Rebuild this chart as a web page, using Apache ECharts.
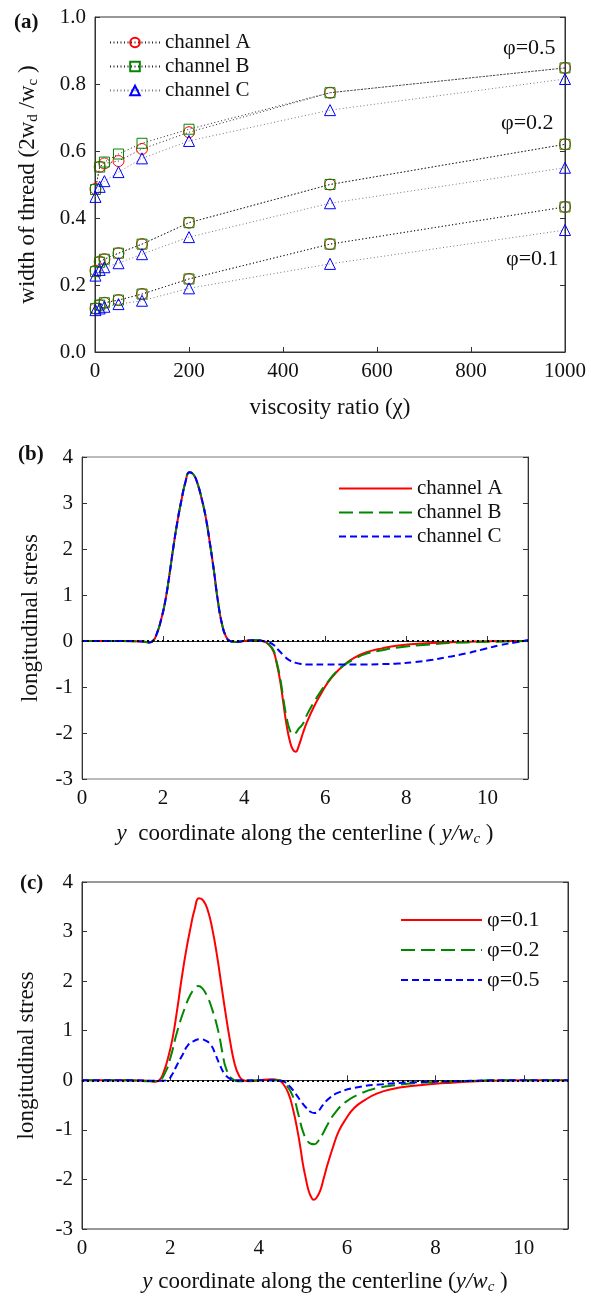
<!DOCTYPE html>
<html>
<head>
<meta charset="utf-8">
<script src="https://cdn.jsdelivr.net/npm/echarts@6/dist/echarts.min.js"></script>
<style>
  html, body { margin: 0; padding: 0; background: #fff; }
  #chart { width: 591px; height: 1296px; }
</style>
</head>
<body>
<div id="chart"></div>
<script>
// ---- panel (a): width of thread vs viscosity ratio
const chi = [1, 10, 20, 50, 100, 200, 500, 1000];
const aPhi05 = [0.487, 0.553, 0.563, 0.57, 0.606, 0.656, 0.774, 0.848];
const bPhi05 = [0.485, 0.552, 0.567, 0.591, 0.623, 0.665, 0.774, 0.848];
const cPhi05 = [0.463, 0.493, 0.51, 0.537, 0.578, 0.63, 0.722, 0.815];
const aPhi02 = [0.243, 0.27, 0.277, 0.295, 0.322, 0.386, 0.5, 0.62];
const bPhi02 = [0.24, 0.268, 0.277, 0.295, 0.322, 0.386, 0.5, 0.62];
const cPhi02 = [0.228, 0.245, 0.253, 0.265, 0.292, 0.343, 0.444, 0.55];
const aPhi01 = [0.13, 0.14, 0.147, 0.155, 0.173, 0.218, 0.322, 0.433];
const bPhi01 = [0.13, 0.14, 0.147, 0.155, 0.173, 0.218, 0.322, 0.433];
const cPhi01 = [0.125, 0.13, 0.135, 0.143, 0.153, 0.19, 0.263, 0.364];

// ---- panel (b): stress along centerline, three channels
const stressB_A = [[0,0],[1,0],[1.5,-0.01],[1.65,-0.03],[1.75,0],[1.85,0.17],[1.95,0.46],[2.05,0.85],[2.15,1.4],[2.25,2.02],[2.35,2.58],[2.45,3.05],[2.55,3.45],[2.65,3.67],[2.75,3.62],[2.85,3.42],[2.95,3.1],[3.05,2.7],[3.15,2.15],[3.25,1.55],[3.35,0.88],[3.45,0.38],[3.55,0.1],[3.65,0],[3.8,-0.02],[4,0],[4.3,0.02],[4.45,0],[4.6,-0.07],[4.72,-0.22],[4.8,-0.48],[4.89,-0.88],[4.97,-1.38],[5.05,-1.85],[5.12,-2.15],[5.2,-2.36],[5.27,-2.41],[5.35,-2.27],[5.45,-2.0],[5.55,-1.76],[5.72,-1.43],[5.9,-1.14],[6.05,-0.92],[6.25,-0.7],[6.47,-0.52],[6.7,-0.37],[7,-0.25],[7.4,-0.16],[7.8,-0.1],[8.5,-0.05],[9.5,-0.015],[10.5,0],[11,0]];
const stressB_B = [[0,0],[1,0],[1.5,-0.01],[1.65,-0.03],[1.75,0],[1.85,0.17],[1.95,0.46],[2.05,0.85],[2.15,1.4],[2.25,2.02],[2.35,2.58],[2.45,3.05],[2.55,3.45],[2.65,3.67],[2.75,3.62],[2.85,3.42],[2.95,3.1],[3.05,2.7],[3.15,2.15],[3.25,1.55],[3.35,0.88],[3.45,0.38],[3.55,0.1],[3.65,0],[3.8,-0.02],[4,0],[4.3,0.02],[4.45,0],[4.6,-0.07],[4.72,-0.2],[4.8,-0.45],[4.89,-0.82],[4.97,-1.28],[5.05,-1.68],[5.12,-1.92],[5.2,-2.03],[5.27,-2.0],[5.35,-1.9],[5.45,-1.8],[5.55,-1.6],[5.72,-1.33],[5.9,-1.08],[6.05,-0.9],[6.25,-0.69],[6.47,-0.52],[6.7,-0.4],[7,-0.28],[7.4,-0.2],[7.8,-0.14],[8.5,-0.08],[9.5,-0.03],[10.5,-0.01],[11,0]];
const stressB_C = [[0,0],[1,0],[1.5,-0.01],[1.65,-0.03],[1.75,0],[1.85,0.17],[1.95,0.46],[2.05,0.85],[2.15,1.4],[2.25,2.02],[2.35,2.58],[2.45,3.05],[2.55,3.45],[2.65,3.67],[2.75,3.62],[2.85,3.42],[2.95,3.1],[3.05,2.7],[3.15,2.15],[3.25,1.55],[3.35,0.88],[3.45,0.38],[3.55,0.1],[3.65,0],[3.8,-0.02],[4,0],[4.3,0.02],[4.45,0],[4.6,-0.03],[4.72,-0.08],[4.85,-0.2],[4.97,-0.31],[5.1,-0.41],[5.25,-0.47],[5.4,-0.5],[5.6,-0.51],[6,-0.51],[6.5,-0.51],[7,-0.51],[7.5,-0.5],[7.8,-0.49],[8.2,-0.46],[8.64,-0.41],[9,-0.35],[9.48,-0.27],[9.9,-0.18],[10.32,-0.09],[10.7,-0.03],[11,0.02]];

// ---- panel (c): stress along centerline, three volume fractions
const stressC_01 = [[0,0],[1,0],[1.5,-0.01],[1.65,-0.03],[1.75,0],[1.85,0.17],[1.95,0.46],[2.05,0.85],[2.15,1.4],[2.25,2.02],[2.35,2.58],[2.45,3.05],[2.55,3.45],[2.65,3.67],[2.75,3.62],[2.85,3.42],[2.95,3.05],[3.05,2.55],[3.15,1.95],[3.25,1.35],[3.35,0.8],[3.45,0.35],[3.55,0.1],[3.65,0],[3.8,-0.02],[4,0],[4.3,0.02],[4.45,0],[4.55,-0.07],[4.67,-0.26],[4.78,-0.6],[4.88,-1.03],[4.95,-1.4],[5,-1.69],[5.07,-2.0],[5.13,-2.23],[5.19,-2.36],[5.24,-2.41],[5.3,-2.38],[5.39,-2.23],[5.47,-1.98],[5.56,-1.69],[5.68,-1.35],[5.81,-1.03],[5.98,-0.77],[6.16,-0.56],[6.4,-0.4],[6.67,-0.27],[7,-0.18],[7.52,-0.11],[8,-0.07],[8.37,-0.05],[9.2,-0.01],[10,0],[11,0]];
const stressC_02 = [[0,0],[1,0],[1.6,-0.02],[1.75,0],[1.89,0.17],[2,0.45],[2.15,0.97],[2.32,1.44],[2.45,1.72],[2.55,1.85],[2.63,1.9],[2.72,1.86],[2.82,1.72],[2.95,1.42],[3.09,0.97],[3.18,0.55],[3.26,0.24],[3.4,0.03],[3.6,-0.02],[4,0],[4.45,0],[4.6,-0.07],[4.79,-0.36],[4.9,-0.7],[5,-1.03],[5.1,-1.22],[5.18,-1.28],[5.26,-1.29],[5.35,-1.22],[5.45,-1.08],[5.56,-0.89],[5.75,-0.63],[5.98,-0.43],[6.3,-0.27],[6.67,-0.16],[7.1,-0.1],[7.52,-0.06],[8.5,-0.02],[9.5,0],[11,0]];
const stressC_05 = [[0,0],[1,0],[1.8,-0.01],[1.95,0.02],[2.05,0.13],[2.15,0.31],[2.28,0.52],[2.4,0.71],[2.55,0.8],[2.67,0.83],[2.8,0.8],[2.92,0.71],[3.02,0.52],[3.12,0.31],[3.22,0.14],[3.35,0.03],[3.5,0],[4.4,0],[4.5,-0.01],[4.6,-0.04],[4.71,-0.13],[4.85,-0.29],[4.96,-0.43],[5.08,-0.56],[5.18,-0.64],[5.26,-0.66],[5.35,-0.62],[5.45,-0.5],[5.6,-0.36],[5.8,-0.25],[6.24,-0.14],[6.8,-0.08],[7.52,-0.04],[8.5,-0.02],[9.5,0],[11,0]];

const FONT = 'Liberation Serif';
const txt = { fontFamily: FONT, fontSize: 21, color: '#111' };

const chart = echarts.init(document.getElementById('chart'));

function pairs(ys) {
  return chi.map((x, i) => [x, ys[i]]);
}

// one (a) series per channel and volume fraction
function threadSeries(name, ys, symbol, color, lineColor) {
  return {
    name: name,
    type: 'line',
    xAxisIndex: 0,
    yAxisIndex: 0,
    data: pairs(ys),
    symbol: symbol,
    symbolSize: symbol === 'rect' ? 10 : 11,
    showAllSymbol: true,
    itemStyle: { color: 'rgba(255,255,255,0)', borderColor: color, borderWidth: 1 },
    lineStyle: { color: lineColor, width: 1, type: [1, 2.5] },
    emphasis: { disabled: true },
  };
}

function stressSeries(name, data, xi, yi, color, dash) {
  return {
    name: name,
    type: 'line',
    xAxisIndex: xi,
    yAxisIndex: yi,
    data: data,
    symbol: 'none',
    smooth: 0.5,
    lineStyle: { color: color, width: 2, type: dash },
    itemStyle: { color: color },
    emphasis: { disabled: true },
  };
}

const zeroLine = {
  silent: true,
  symbol: 'none',
  label: { show: false },
  lineStyle: { color: '#000', type: [2, 3], width: 2 },
  data: [{ yAxis: 0 }],
};

function valueX(grid, min, max, interval, name, gap, hideMax) {
  return {
    type: 'value', gridIndex: grid, min: min, max: max, interval: interval,
    name: name, nameLocation: 'middle', nameGap: gap,
    nameTextStyle: Object.assign({}, txt, {
      fontSize: 23,
      rich: {
        it: { fontFamily: FONT, fontSize: 23, fontStyle: 'italic', color: '#111' },
        sub: { fontFamily: FONT, fontSize: 15, fontStyle: 'italic', color: '#111', padding: [11, 0, 0, 0] },
      },
    }),
    axisLine: { lineStyle: { color: '#333' } },
    axisTick: { inside: true, length: 5, lineStyle: { color: '#333' } },
    axisLabel: Object.assign({}, txt, { margin: 9, showMaxLabel: !hideMax, formatter: (v) => String(v) }),
    splitLine: { show: false },
  };
}

function valueY(grid, min, max, interval, name, gap, fmt) {
  return {
    type: 'value', gridIndex: grid, min: min, max: max, interval: interval,
    name: name, nameLocation: 'middle', nameGap: gap, nameRotate: 90,
    nameTextStyle: Object.assign({}, txt, {
      fontSize: 23,
      rich: { sub: { fontFamily: FONT, fontSize: 15, color: '#111', padding: [11, 0, 0, 0] } },
    }),
    axisLine: { show: true, lineStyle: { color: '#333' } },
    axisTick: { show: true, inside: true, length: 5, lineStyle: { color: '#333' } },
    axisLabel: Object.assign({}, txt, { margin: 9, formatter: fmt }),
    splitLine: { show: false },
  };
}

function mirrorY(grid, min, max, interval) {
  return {
    type: 'value', gridIndex: grid, position: 'right', min: min, max: max, interval: interval,
    axisLine: { show: true, lineStyle: { color: '#333' } },
    axisTick: { show: true, inside: true, length: 5, lineStyle: { color: '#333' } },
    axisLabel: { show: false },
    splitLine: { show: false },
  };
}

const trimName = (n) => n.trim();

chart.setOption({
  backgroundColor: '#fff',
  animation: false,
  grid: [
    { left: 95, top: 17, width: 470, height: 335, show: true, borderColor: '#333', borderWidth: 1 },
    { left: 82, top: 457, width: 446, height: 322, show: true, borderColor: '#777', borderWidth: 1 },
    { left: 82, top: 882, width: 486, height: 350, show: true, borderColor: '#333', borderWidth: 1 },
  ],
  xAxis: [
    valueX(0, 0, 1000, 200, 'viscosity ratio (\u03c7)', 44, false),
    valueX(1, 0, 11, 2, '{it|y}  coordinate along the centerline ( {it|y/w}{sub|c} )', 42, true),
    valueX(2, 0, 11, 2, '{it|y} coordinate along the centerline ({it|y/w}{sub|c} )', 40, true),
  ],
  yAxis: [
    valueY(0, 0, 1, 0.2, 'width of thread (2w{sub|d} /w{sub|c} )', 54, (v) => v.toFixed(1)),
    mirrorY(0, 0, 1, 0.2),
    valueY(1, -3, 4, 1, 'longitudinal stress', 40),
    mirrorY(1, -3, 4, 1),
    valueY(2, -3, 4, 1, 'longitudinal stress', 44),
    mirrorY(2, -3, 4, 1),
  ],
  legend: [
    {
      data: ['channel A', 'channel B', 'channel C'],
      orient: 'vertical', left: 104, top: 27, itemWidth: 50, itemHeight: 12, itemGap: 3,
      textStyle: txt, selectedMode: false,
    },
    {
      data: ['channel A ', 'channel B ', 'channel C '],
      orient: 'vertical', left: 333, top: 473, itemWidth: 73, itemHeight: 12, itemGap: 3,
      textStyle: txt, formatter: trimName, selectedMode: false,
      itemStyle: { opacity: 0 },
    },
    {
      data: ['\u03c6=0.1', '\u03c6=0.2', '\u03c6=0.5'],
      orient: 'vertical', left: 395, top: 904, itemWidth: 81, itemHeight: 12, itemGap: 8,
      textStyle: Object.assign({}, txt, { fontSize: 22 }), selectedMode: false,
      itemStyle: { opacity: 0 },
    },
  ],
  graphic: [
    { type: 'text', left: 14, top: 12, style: { text: '(a)', font: 'bold 21px "Liberation Serif"', fill: '#111' } },
    { type: 'text', left: 18, top: 444, style: { text: '(b)', font: 'bold 21px "Liberation Serif"', fill: '#111' } },
    { type: 'text', left: 20, top: 873, style: { text: '(c)', font: 'bold 21px "Liberation Serif"', fill: '#111' } },
    { type: 'text', left: 503, top: 37, style: { text: '\u03c6=0.5', font: '22px "Liberation Serif"', fill: '#111' } },
    { type: 'text', left: 501, top: 112, style: { text: '\u03c6=0.2', font: '22px "Liberation Serif"', fill: '#111' } },
    { type: 'text', left: 506, top: 248, style: { text: '\u03c6=0.1', font: '22px "Liberation Serif"', fill: '#111' } },
  ],
  series: [
    threadSeries('channel A', aPhi05, 'circle', '#f00', '#222'),
    threadSeries('channel B', bPhi05, 'rect', '#080', '#222'),
    threadSeries('channel C', cPhi05, 'triangle', '#00f', '#777'),
    threadSeries('channel A', aPhi02, 'circle', '#f00', '#222'),
    threadSeries('channel B', bPhi02, 'rect', '#080', '#222'),
    threadSeries('channel C', cPhi02, 'triangle', '#00f', '#777'),
    threadSeries('channel A', aPhi01, 'circle', '#f00', '#222'),
    threadSeries('channel B', bPhi01, 'rect', '#080', '#222'),
    threadSeries('channel C', cPhi01, 'triangle', '#00f', '#777'),

    Object.assign(stressSeries('channel A ', stressB_A, 1, 2, '#f00', 'solid'), { markLine: zeroLine }),
    stressSeries('channel B ', stressB_B, 1, 2, '#080', [14, 6]),
    stressSeries('channel C ', stressB_C, 1, 2, '#00f', [7, 4]),

    Object.assign(stressSeries('\u03c6=0.1', stressC_01, 2, 4, '#f00', 'solid'), { markLine: zeroLine }),
    stressSeries('\u03c6=0.2', stressC_02, 2, 4, '#080', [14, 6]),
    stressSeries('\u03c6=0.5', stressC_05, 2, 4, '#00f', [7, 4]),
  ],
});
</script>
</body>
</html>
